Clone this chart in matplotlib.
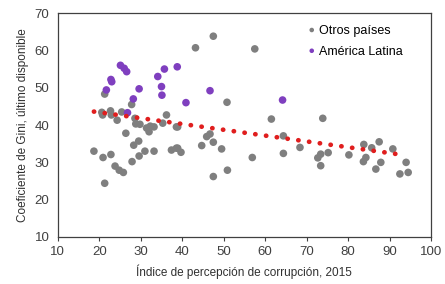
import numpy as np
from matplotlib import pyplot as plt

plt.rcParams['font.family'] = ['Liberation Sans', 'DejaVu Sans']

# Otros paises
otros_x = [18.7, 20.9, 22.8, 21.3, 23.8, 24.8, 25.8, 27.9, 28.3, 29.5, 29.6, 31.0, 33.2,
           37.4, 38.6, 38.9, 39.7, 44.7, 45.9, 46.7, 47.5, 49.5, 47.5, 50.9, 56.9, 43.2,
           47.5, 57.5, 50.8, 61.5, 64.4, 64.4, 68.4, 72.7, 73.4, 75.2, 73.4, 73.9, 80.2,
           83.8, 85.7, 87.5, 84.3, 83.7, 87.9, 86.7, 90.8, 94.0, 92.5, 94.5,
           21.3, 27.8, 26.4, 20.6, 20.8, 22.7, 22.9, 24.3, 25.4, 28.6, 28.8, 29.8, 31.4,
           32.3, 33.2, 36.2, 35.3, 38.6, 32.0, 38.9]
otros_y = [33.0, 31.3, 32.1, 24.4, 29.0, 27.9, 27.3, 30.2, 34.6, 35.7, 31.7, 33.0, 33.0,
           33.3, 33.8, 33.8, 32.7, 34.5, 36.9, 37.6, 35.4, 33.6, 26.2, 27.9, 31.3, 60.7,
           63.8, 60.4, 46.1, 41.6, 37.1, 32.4, 34.0, 31.2, 32.2, 32.6, 29.1, 41.8, 32.0,
           34.8, 33.9, 35.5, 31.3, 30.2, 30.0, 28.2, 33.6, 30.0, 26.9, 27.3,
           48.3, 45.5, 37.8, 43.4, 42.7, 43.8, 42.7, 41.3, 43.5, 41.8, 40.3, 40.2, 39.2,
           39.7, 39.5, 42.7, 40.5, 39.5, 38.2, 39.5]

# America Latina
latam_x = [25.1, 26.0, 26.6, 22.8, 23.0, 21.7, 29.6, 28.2, 34.1, 35.7, 35.0, 35.1,
           38.8, 40.9, 46.7, 26.8, 64.2]
latam_y = [56.0, 55.2, 54.3, 52.2, 51.6, 49.4, 49.7, 47.0, 53.0, 55.0, 50.3, 48.0,
           55.6, 46.0, 49.2, 43.3, 46.7]

# Tendencia lineal
trend_x = [18.7, 91.9]
trend_y = [43.6, 32.2]

fig = plt.figure(figsize=(4.45, 2.84), dpi=100)
ax = fig.add_axes([0.130, 0.1655, 0.8385, 0.7885])

ax.scatter(otros_x, otros_y, s=30, color="#7f7f7f", edgecolors="none", label="Otros países", zorder=2)
ax.scatter(latam_x, latam_y, s=30, color="#7f3fbf", edgecolors="none", label="América Latina", zorder=2)
ax.plot(trend_x, trend_y, color="#e01e1e", linewidth=3.4, linestyle=(0, (0.05, 2.25)),
        dash_capstyle="round", zorder=3)

ax.set_xlim(10, 100)
ax.set_ylim(10, 70)
ax.set_xticks(np.arange(10, 101, 10))
ax.set_yticks(np.arange(10, 71, 10))
ax.tick_params(axis='x', direction='out', length=3, labelsize=9.5, colors="#404040")
ax.tick_params(axis='y', length=0, labelsize=9.5, colors="#404040", pad=6)
for s in ax.spines.values():
    s.set_color("#404040")
    s.set_linewidth(0.9)

ax.set_xlabel("Índice de percepción de corrupción, 2015", fontsize=8.5, color="#303030", labelpad=5)
ax.set_ylabel("Coeficiente de Gini, último disponible", fontsize=8.5, color="#303030", labelpad=4)

ax.legend(loc="upper right", bbox_to_anchor=(0.925, 0.945), frameon=False, fontsize=9,
          handletextpad=-0.4, markerscale=0.6, borderaxespad=0.0, labelspacing=0.7,
          borderpad=0.0, scatteryoffsets=[0.5])

fig.savefig("out.png", dpi=100)
